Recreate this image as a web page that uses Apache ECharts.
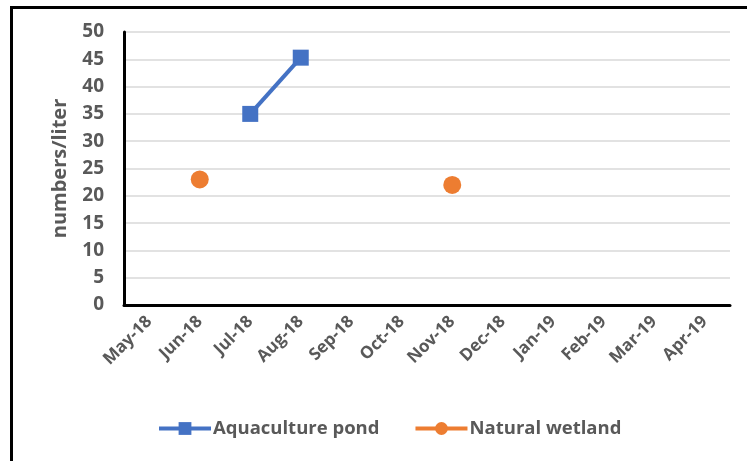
<!DOCTYPE html>
<html><head><meta charset="utf-8">
<script src="https://cdn.jsdelivr.net/npm/echarts@6/dist/echarts.min.js"></script>
<style>html,body{margin:0;padding:0;background:#fff}#c{width:747px;height:461px}</style>
</head><body><div id="c"></div>
<script>
const categories = ['May-18','Jun-18','Jul-18','Aug-18','Sep-18','Oct-18','Nov-18','Dec-18','Jan-19','Feb-19','Mar-19','Apr-19'];
const aquaculturePond = [null, null, 35, 45.3, null, null, null, null, null, null, null, null];
const naturalWetland = [null, 23, null, null, null, null, 22, null, null, null, null, null];
const yTicks = {min: 0, max: 50, interval: 5};

const FONT = 'Open Sans';
const GRAY = '#595959';
const chart = echarts.init(document.getElementById('c'), null, {renderer: 'canvas'});
chart.setOption({
  animation: false,
  backgroundColor: '#fff',
  graphic: [{
    type: 'rect', shape: {x: 11.5, y: 7.5, width: 800, height: 500},
    style: {fill: 'none', stroke: '#000', lineWidth: 3}, silent: true, z: 100
  }],
  grid: {left: 124, right: 17, top: 32, bottom: 156},
  legend: {
    bottom: 18, left: 152,
    itemWidth: 52, itemHeight: 16, itemGap: 34,
    lineStyle: {width: 4},
    textStyle: {color: GRAY, fontFamily: FONT, fontWeight: 'bold', fontSize: 18.5, padding: [0, 0, 0, -3]},
    data: ['Aquaculture pond', 'Natural wetland']
  },
  xAxis: {
    type: 'category', data: categories, boundaryGap: true,
    axisLine: {lineStyle: {color: '#000', width: 3}},
    axisTick: {show: false},
    axisLabel: {rotate: 45, interval: 0, color: GRAY, fontFamily: FONT, fontWeight: 'bold', fontSize: 17, margin: 14}
  },
  yAxis: {
    type: 'value', min: yTicks.min, max: yTicks.max, interval: yTicks.interval,
    name: 'numbers/liter', nameLocation: 'middle', nameGap: 54,
    nameTextStyle: {color: GRAY, fontFamily: FONT, fontWeight: 'bold', fontSize: 20},
    axisLine: {show: true, lineStyle: {color: '#000', width: 3}},
    axisTick: {show: false},
    axisLabel: {color: GRAY, fontFamily: FONT, fontWeight: 'bold', fontSize: 19, margin: 20},
    splitLine: {lineStyle: {color: '#d9d9d9', width: 1.5}}
  },
  series: [{
    name: 'Aquaculture pond', type: 'line', data: aquaculturePond,
    symbol: 'rect', symbolSize: 16, connectNulls: false,
    lineStyle: {color: '#4472C4', width: 4}, itemStyle: {color: '#4472C4'}
  }, {
    name: 'Natural wetland', type: 'line', data: naturalWetland,
    symbol: 'circle', symbolSize: 18, connectNulls: false,
    lineStyle: {color: '#ED7D31', width: 4}, itemStyle: {color: '#ED7D31'}
  }]
});
</script></body></html>
